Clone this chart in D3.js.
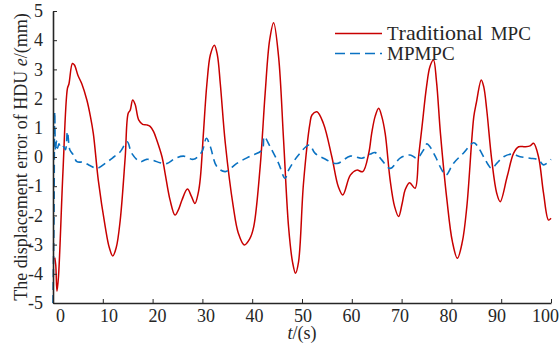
<!DOCTYPE html>
<html>
<head>
<meta charset="utf-8">
<script src="https://cdn.jsdelivr.net/npm/d3@7"></script>
<style>
  html, body { margin: 0; padding: 0; background: #fff; }
  svg { display: block; }
</style>
</head>
<body>
<svg id="chart" width="559" height="343"></svg>
<script>
// Displacement error of the HDU over time for the two controllers
const traditionalT = [0.35,0.55,0.8,1.1,2.0,2.9,3.2,3.9,4.3,5.0,5.8,6.8,7.5,8.1,9.1,10.5,11.3,12,12.7,13.5,14.5,15.1,15.5,16,16.5,17.2,18,18.8,19.5,20.2,20.8,21.9,22.5,23.5,24.5,25.2,25.9,27,27.8,28.5,29.2,29.6,30.2,30.9,31.6,32.4,33,33.6,34.6,36.2,37.2,38.4,39.5,40.3,41.6,42.6,43.5,44.3,45.3,46.3,47.3,48.1,48.7,49.3,50.3,51.6,52,53,54.3,56,57.3,58.2,59.7,61,62.2,63.4,64,64.7,65.4,66,66.7,67.7,68.6,69.4,70.1,70.7,71.6,72.7,73.4,74.1,75,75.7,76.4,77,77.8,79.1,80.2,81.2,82.2,83.1,84.5,85,86,86.5,87.1,88.1,89.1,89.8,91.2,92.5,93.5,94.8,95.8,96.5,97.5,98.5,99.5,100];
const traditionalE = [-3.45,-3.7,-4.6,-4.1,-0.5,2.35,2.5,3.2,3.15,2.8,2.5,1.95,1.4,0.8,-0.8,-2.4,-3.1,-3.39,-3.1,-2.16,0,1.5,1.6,1.95,1.8,1.27,1.12,1.1,1.05,0.87,0.6,0,-0.55,-1.47,-1.99,-1.8,-1.47,-1.1,-1.35,-1.59,-1.2,-0.7,0.8,2.5,3.5,3.83,3.5,2.5,0.47,-1.7,-2.6,-3.01,-2.8,-2.39,-0.33,2.18,4.0,4.6,3.43,0.58,-2.39,-3.6,-3.98,-3.6,-0.9,1.15,1.44,1.55,1.15,0,-1.02,-1.3,-0.62,-0.45,-0.5,0.13,0.82,1.4,1.67,1.4,0.81,-0.79,-1.7,-2.04,-1.6,-1.13,-0.88,-1.07,0,1.04,2.4,3.1,3.32,2.6,0.81,-1.47,-2.9,-3.47,-2.9,-1.7,1.38,1.85,2.64,2.4,1.61,-0.1,-1.24,-1.53,-0.67,0.13,0.35,0.35,0.38,0.47,0,-1.24,-2.16,-2.1];

const mpmpcT = [0,0.2,0.35,0.5,0.7,0.9,1.2,1.6,2.1,2.5,2.9,3.4,4.1,4.8,6.1,7.5,8.8,10.8,12.2,13.5,14.9,15.8,17.5,18.8,20.2,21.5,22.9,24.5,26.2,28.2,29.9,30.8,31.6,32.9,34.6,36.9,39.6,42,42.4,43.6,45.3,46.6,47.3,49.3,51.5,52.6,54.3,57,59.7,62,63.7,64.7,66,67.7,69.7,71.7,73.1,74.4,75.1,75.7,76.8,78.1,78.9,80.4,82.4,84.5,85.5,86.8,88.1,89.1,90.5,92.2,93.8,95.8,97.5,98.5,100];
const mpmpcE = [-5,-2,1.55,0.2,0.55,0.3,0.45,0.3,0.35,0.25,0.87,0.24,0.07,-0.16,-0.18,-0.3,-0.39,-0.18,0,0.18,0.52,0.13,-0.16,-0.08,-0.12,-0.2,-0.22,-0.05,0.03,-0.08,0.18,0.64,0.35,-0.33,-0.5,-0.22,0.03,0.24,0.7,0.35,-0.22,-0.73,-0.45,0.07,0.41,0.13,-0.04,-0.22,0.03,-0.04,0.1,0.15,-0.1,-0.39,-0.04,0.07,-0.04,0.24,0.45,0.35,0.01,-0.45,-0.62,-0.22,0.13,0.49,0.3,-0.1,-0.39,-0.22,0.01,0.1,0.01,-0.04,-0.1,-0.27,-0.08];

const xTicks = [0,10,20,30,40,50,60,70,80,90,100];
const yTicks = [-5,-4,-3,-2,-1,0,1,2,3,4,5];
const seriesNames = ["Traditional MPC", "MPMPC"];

const FONT = "Liberation Serif";
const INK = "#262626";

function serif(sel, size) {
  return sel.attr("font-family", FONT).style("font-family", FONT)
    .attr("font-size", size).style("font-size", size + "px");
}

const svg = d3.select("#chart");
const x = d3.scaleLinear().domain([0, 100]).range([53, 551]);
const y = d3.scaleLinear().domain([-5, 5]).range([303, 11]);

// curves
const line = d3.line()
  .x(d => x(d[0]))
  .y(d => y(d[1]))
  .curve(d3.curveCatmullRom.alpha(0.5));

const redData = traditionalT.map((t, i) => [t, traditionalE[i]]);
const blueData = mpmpcT.map((t, i) => [t, mpmpcE[i]]);

svg.append("path").datum(redData)
  .attr("d", line).attr("fill", "none")
  .attr("stroke", "#c80000").attr("stroke-width", 1.5);

svg.append("path").datum(blueData)
  .attr("d", line).attr("fill", "none")
  .attr("stroke", "#0a72c2").attr("stroke-width", 1.6)
  .attr("stroke-dasharray", "8,5");

// axes
const xAxis = d3.axisBottom(x).tickValues(xTicks).tickSizeInner(-4).tickSizeOuter(0).tickPadding(6);
const yAxis = d3.axisLeft(y).tickValues(yTicks).tickSizeInner(-4).tickSizeOuter(0).tickPadding(10)
  .tickFormat(d => d < 0 ? "-" + Math.abs(d) : String(d));

const gx = svg.append("g").attr("transform", "translate(0,303)").call(xAxis);
const gy = svg.append("g").attr("transform", "translate(53,0)").call(yAxis);

[gx, gy].forEach(g => {
  g.attr("font-family", FONT).attr("font-size", 18);
  g.select(".domain").attr("stroke", INK).attr("stroke-width", 1.6);
  g.selectAll(".tick line").attr("stroke", INK).attr("stroke-width", 1);
  serif(g.selectAll(".tick text"), 18).attr("fill", INK);
});
// x labels sit on a slightly narrower spacing than the ticks themselves
const labelX = d3.scaleLinear().domain([0, 100]).range([60, 545]);
gx.selectAll(".tick text").attr("dx", d => labelX(d) - x(d));

// axis titles
const xTitle = serif(svg.append("text"), 18)
  .attr("x", x(50)).attr("y", 339)
  .attr("text-anchor", "middle").attr("fill", INK);
xTitle.append("tspan").attr("font-style", "italic").text("t");
xTitle.append("tspan").text("/(s)");

const yTitle = serif(svg.append("text"), 18)
  .attr("transform", "translate(27," + y(0) + ") rotate(-90)")
  .attr("text-anchor", "middle").attr("fill", INK);
yTitle.append("tspan").text("The displacement error of HDU ");
yTitle.append("tspan").attr("font-style", "italic").text("e");
yTitle.append("tspan").text("/(mm)");

// legend
const lg = svg.append("g");
lg.append("line").attr("x1", 335).attr("x2", 382).attr("y1", 33.5).attr("y2", 33.5)
  .attr("stroke", "#c80000").attr("stroke-width", 1.5);
lg.append("line").attr("x1", 335).attr("x2", 382).attr("y1", 53.5).attr("y2", 53.5)
  .attr("stroke", "#0a72c2").attr("stroke-width", 1.6).attr("stroke-dasharray", "10,5");

const l1 = serif(lg.append("text"), 19).attr("x", 387).attr("y", 39.5).attr("fill", INK);
serif(l1.append("tspan"), 19).text(seriesNames[0].slice(0, 1));
serif(l1.append("tspan"), 22).text(seriesNames[0].slice(1, 11));
serif(l1.append("tspan"), 19).attr("dx", 3).text(seriesNames[0].slice(11));

serif(lg.append("text"), 19).attr("x", 387).attr("y", 59.5).attr("fill", INK)
  .text(seriesNames[1]);
</script>
</body>
</html>
